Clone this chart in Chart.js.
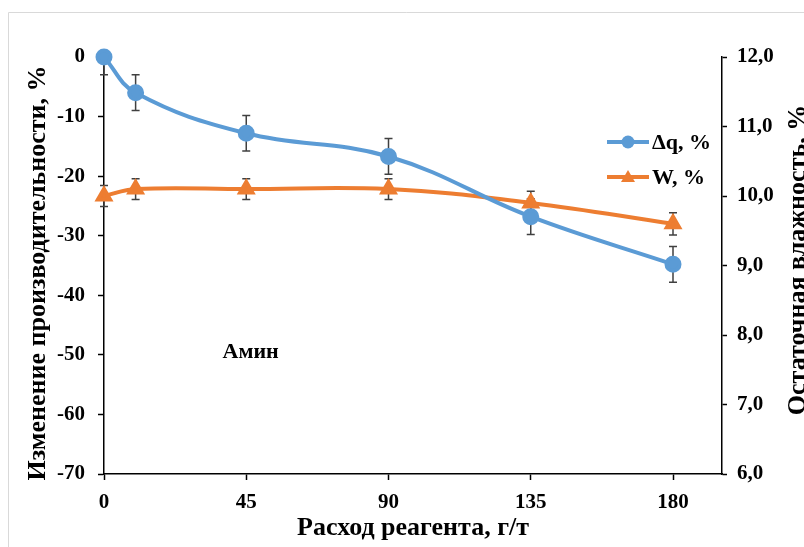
<!DOCTYPE html>
<html>
<head>
<meta charset="utf-8">
<script src="https://cdn.jsdelivr.net/npm/chart.js@4.4.0/dist/chart.umd.min.js"></script>
<style>
  html, body { margin: 0; padding: 0; background: #fff; overflow: hidden; }
  #wrap { width: 804px; height: 547px; }
</style>
</head>
<body>
<div id="wrap"><canvas id="chartCanva" width="804" height="547"></canvas></div>
<script>
// Reagent dose, g/t
const doses = [0, 10, 45, 90, 135, 180];
const xTicks = [0, 45, 90, 135, 180];

// Productivity change, %
const dq = [0, -6.0, -12.8, -16.7, -26.8, -34.8];
const dqErr = [3, 3, 3, 3, 3, 3];

// Residual moisture, %
const moisture = [10.0, 10.1, 10.1, 10.1, 9.9, 9.6];
const moistureErr = [0.15, 0.15, 0.15, 0.15, 0.17, 0.16];

const BLUE = "#5B9BD5";
const ORANGE = "#ED7D31";
const FONT = "'Liberation Serif', 'Times New Roman', serif";

const toPoints = (ys) => doses.map((x, i) => ({ x: x, y: ys[i] }));

// error bars, drawn under the markers and clipped to the plot area
const errorBars = {
    id: "errorBars",
    beforeDatasetsDraw(chart) {
        const { ctx, chartArea, scales } = chart;
        ctx.save();
        ctx.beginPath();
        ctx.rect(chartArea.left - 6, chartArea.top, chartArea.width + 12, chartArea.height);
        ctx.clip();
        ctx.strokeStyle = "#404040";
        ctx.lineWidth = 1.5;
        chart.data.datasets.forEach((ds) => {
            const yScale = scales[ds.yAxisID];
            ds.data.forEach((p, i) => {
                const x = scales.x.getPixelForValue(p.x);
                const top = yScale.getPixelForValue(p.y + ds.errors[i]);
                const bottom = yScale.getPixelForValue(p.y - ds.errors[i]);
                ctx.beginPath();
                ctx.moveTo(x, top);
                ctx.lineTo(x, bottom);
                ctx.moveTo(x - 4, top);
                ctx.lineTo(x + 4, top);
                ctx.moveTo(x - 4, bottom);
                ctx.lineTo(x + 4, bottom);
                ctx.stroke();
            });
        });
        ctx.restore();
    },
};

// titles, legend, label and outer frame
const decorations = {
    id: "decorations",
    beforeDraw(chart) {
        const { ctx } = chart;
        ctx.save();
        ctx.strokeStyle = "#d9d9d9";
        ctx.lineWidth = 1;
        ctx.beginPath();
        ctx.moveTo(8.5, 547);
        ctx.lineTo(8.5, 12.5);
        ctx.lineTo(804, 12.5);
        ctx.stroke();
        ctx.restore();
    },
    afterDraw(chart) {
        const { ctx, chartArea, scales } = chart;
        ctx.save();
        ctx.fillStyle = "#000";
        ctx.font = "bold 26px " + FONT;
        ctx.textAlign = "center";
        ctx.textBaseline = "alphabetic";

        // x axis title
        ctx.fillText("Расход реагента, г/т", (chartArea.left + chartArea.right) / 2, 535);

        // left axis title
        ctx.save();
        ctx.translate(45, 273);
        ctx.rotate(-Math.PI / 2);
        ctx.fillText("Изменение производительности, %", 0, 0);
        ctx.restore();

        // right axis title
        ctx.save();
        ctx.translate(805, 260);
        ctx.rotate(-Math.PI / 2);
        ctx.fillText("Остаточная влажность, %", 0, 0);
        ctx.restore();

        // label inside the plot
        ctx.font = "bold 22px " + FONT;
        ctx.textAlign = "left";
        ctx.textBaseline = "middle";
        ctx.fillText("Амин", scales.x.getPixelForValue(37.5), scales.y.getPixelForValue(-49.5));

        // legend: line segment with marker, then text
        const items = [
            { ds: chart.data.datasets[0], y: 142 },
            { ds: chart.data.datasets[1], y: 177 },
        ];
        items.forEach((item) => {
            const ds = item.ds;
            ctx.strokeStyle = ds.borderColor;
            ctx.lineWidth = 4;
            ctx.beginPath();
            ctx.moveTo(607, item.y);
            ctx.lineTo(649, item.y);
            ctx.stroke();
            ctx.fillStyle = ds.pointBackgroundColor;
            ctx.beginPath();
            if (ds.pointStyle === "triangle") {
                ctx.moveTo(628, item.y - 7);
                ctx.lineTo(635, item.y + 5);
                ctx.lineTo(621, item.y + 5);
                ctx.closePath();
            } else {
                ctx.arc(628, item.y, 6.5, 0, Math.PI * 2);
            }
            ctx.fill();
            ctx.fillStyle = "#000";
            ctx.font = "bold 22px " + FONT;
            ctx.fillText(ds.label, 652, item.y + 1);
        });
        ctx.restore();
    },
};

const tickFont = { family: FONT, size: 21, weight: "bold" };

new Chart(document.getElementById("chartCanva"), {
    type: "line",
    data: {
        datasets: [
            {
                label: "Δq, %",
                data: toPoints(dq),
                errors: dqErr,
                yAxisID: "y",
                borderColor: BLUE,
                backgroundColor: BLUE,
                pointBackgroundColor: BLUE,
                pointBorderColor: BLUE,
                pointStyle: "circle",
                pointRadius: 6.5,
                borderWidth: 4,
                tension: 0.4,
                clip: false,
            },
            {
                label: "W, %",
                data: toPoints(moisture),
                errors: moistureErr,
                yAxisID: "y2",
                borderColor: ORANGE,
                backgroundColor: ORANGE,
                pointBackgroundColor: ORANGE,
                pointBorderColor: ORANGE,
                pointStyle: "triangle",
                pointRadius: 7,
                borderWidth: 4,
                tension: 0.4,
                clip: false,
            },
        ],
    },
    options: {
        responsive: false,
        animation: false,
        layout: { padding: { top: 57, left: 0, right: 0, bottom: 0 } },
        plugins: {
            legend: { display: false },
            tooltip: { enabled: false },
        },
        scales: {
            x: {
                type: "linear",
                min: 0,
                max: 195.5,
                afterFit: (s) => { s.height = 73; },
                afterBuildTicks: (s) => { s.ticks = xTicks.map((v) => ({ value: v })); },
                grid: { drawOnChartArea: false, tickLength: 6, color: "#000", tickWidth: 1.5 },
                border: { color: "#000", width: 1.5 },
                ticks: { font: tickFont, color: "#000", padding: 10, maxRotation: 0 },
            },
            y: {
                position: "left",
                min: -70,
                max: 0,
                afterFit: (s) => { s.width = 104; },
                grid: { drawOnChartArea: false, tickLength: 6, color: "#000", tickWidth: 1.5 },
                border: { color: "#000", width: 1.5 },
                ticks: { stepSize: 10, font: tickFont, color: "#000", padding: 13 },
            },
            y2: {
                position: "right",
                min: 6,
                max: 12,
                afterFit: (s) => { s.width = 82; },
                grid: { drawOnChartArea: false, tickLength: 5, color: "#000", tickWidth: 1.5 },
                border: { color: "#000", width: 1.5 },
                ticks: {
                    stepSize: 1,
                    font: tickFont,
                    color: "#000",
                    padding: 10,
                    callback: (v) => v.toFixed(1).replace(".", ","),
                },
            },
        },
    },
    plugins: [errorBars, decorations],
});
</script>
</body>
</html>
